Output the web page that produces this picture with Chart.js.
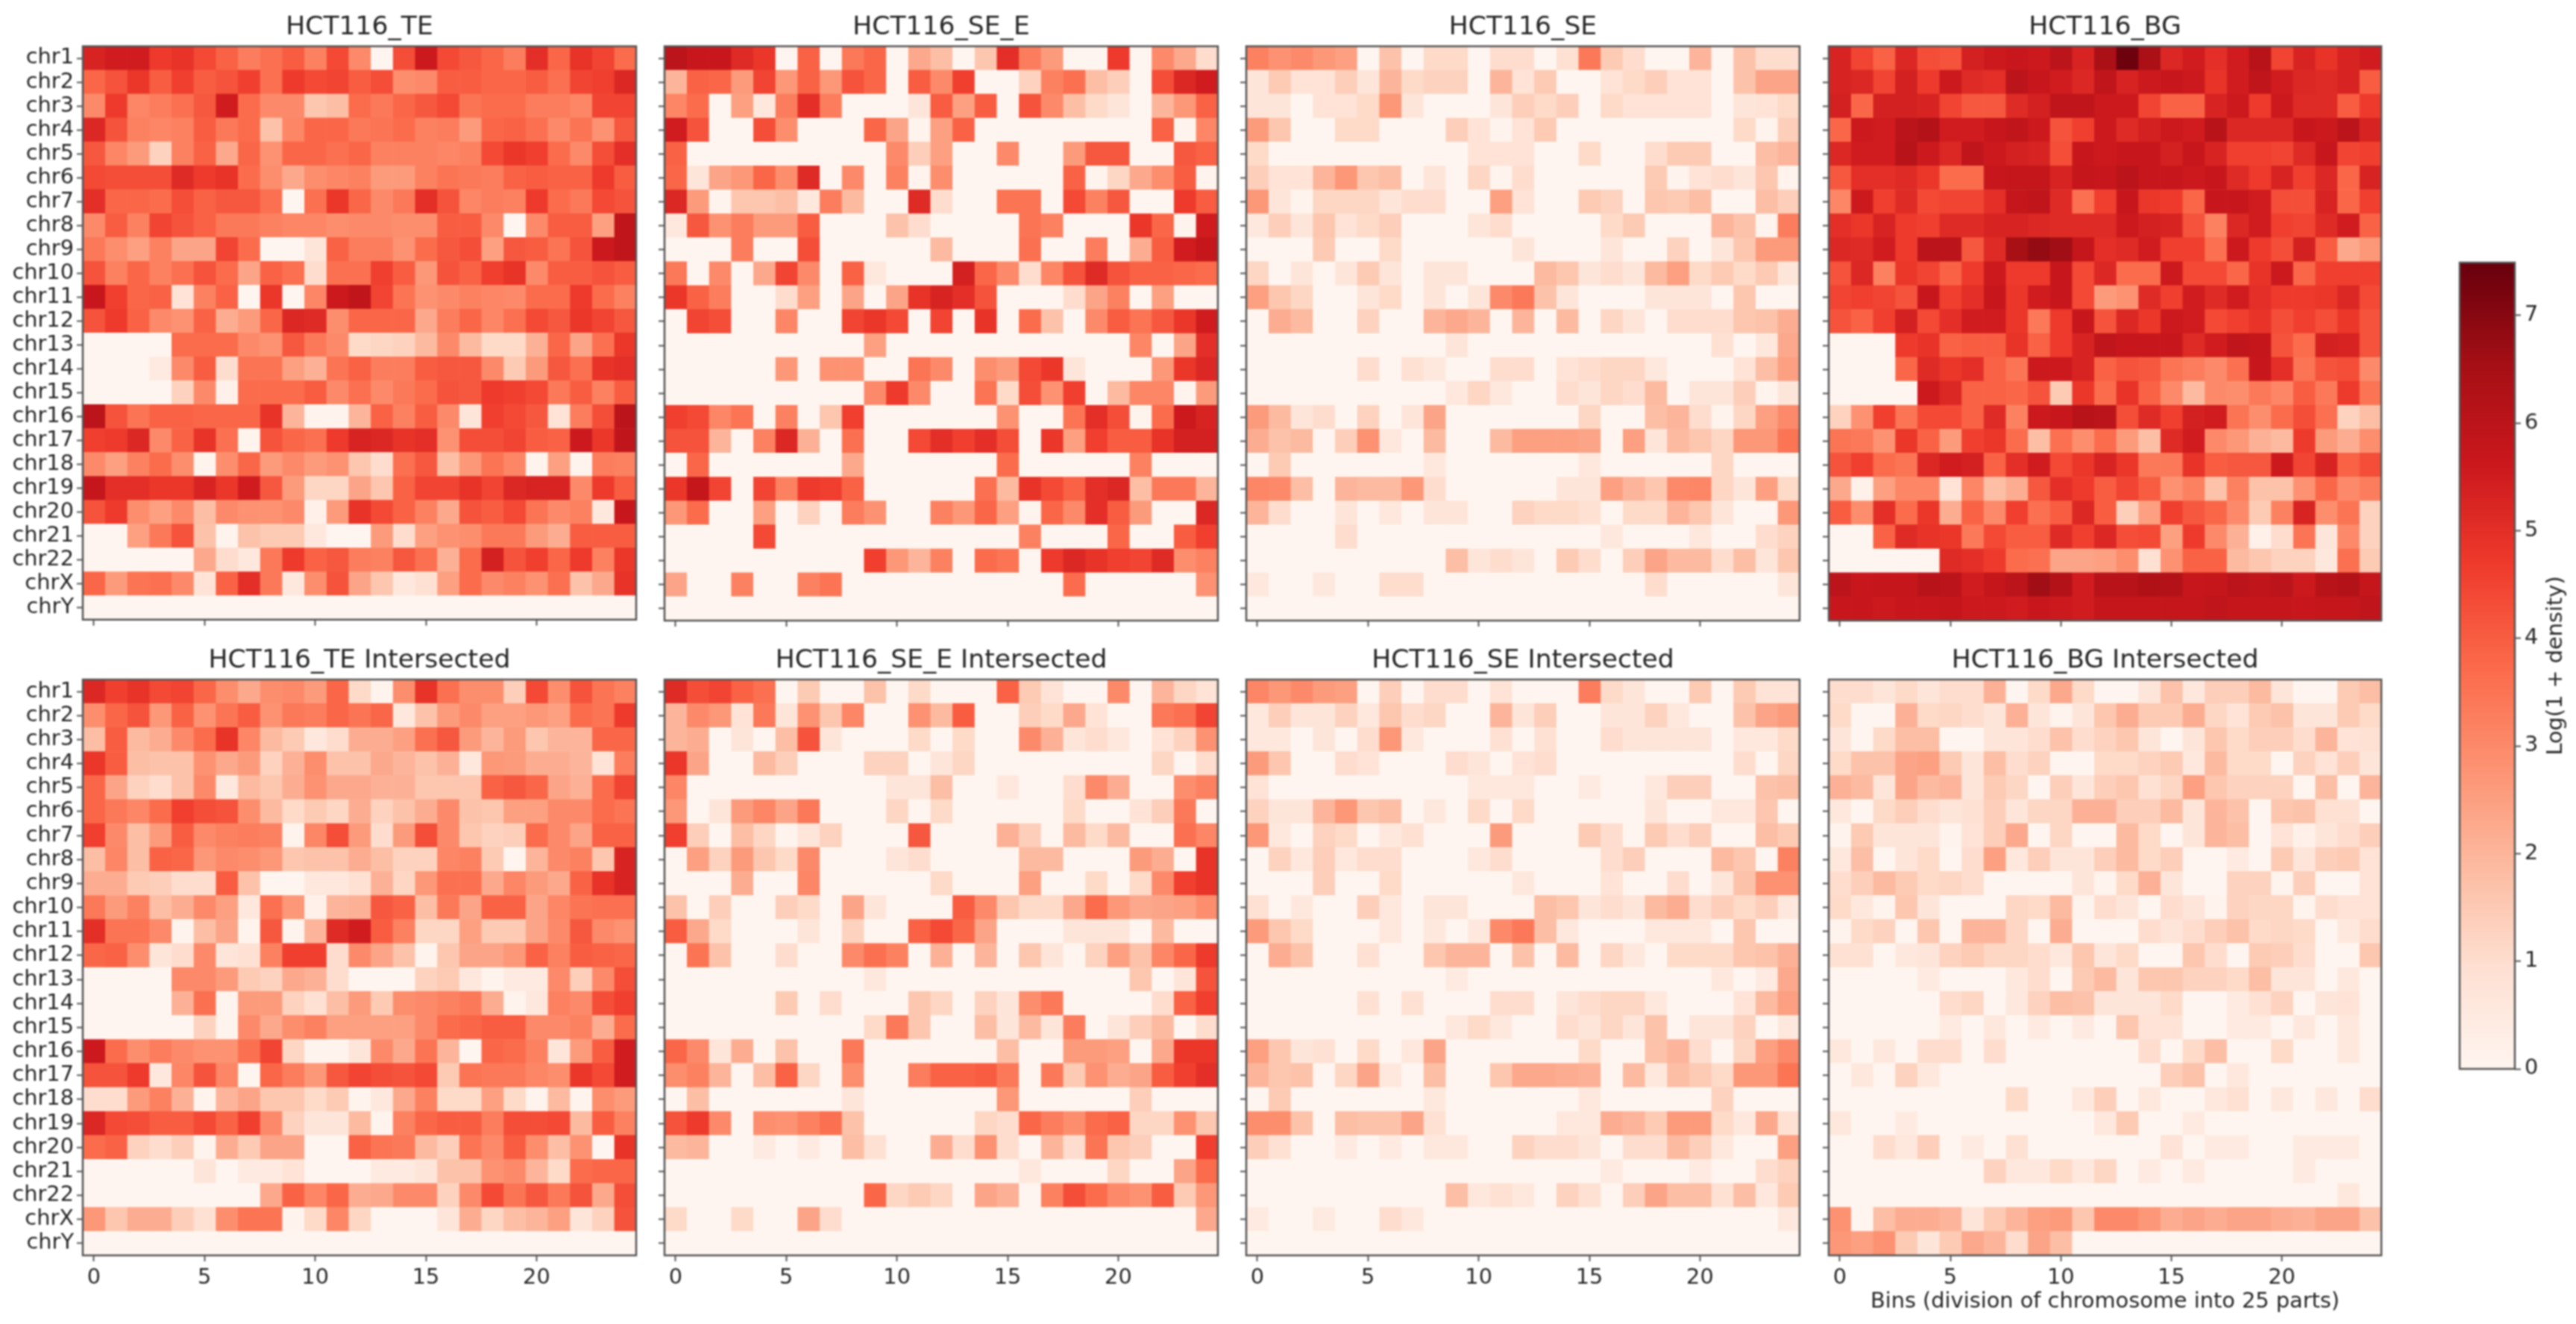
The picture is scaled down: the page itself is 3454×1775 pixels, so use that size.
<!DOCTYPE html>
<html>
<head>
<meta charset="utf-8">
<title>HCT116 density</title>
<script src="https://cdn.jsdelivr.net/npm/chart.js@4"></script>
<style>
  html, body { margin: 0; padding: 0; background: #fff; overflow: hidden; }
  #page { position: relative; width: 3454px; height: 1775px; filter: blur(1px); }
  canvas { position: absolute; }
</style>
</head>
<body>
<div id="page"></div>
<script>
const chromosomes = ['chr1','chr2','chr3','chr4','chr5','chr6','chr7','chr8','chr9','chr10','chr11','chr12','chr13','chr14','chr15','chr16','chr17','chr18','chr19','chr20','chr21','chr22','chrX','chrY'];
const binTicks = [0, 5, 10, 15, 20];
const colorbarTicks = [0, 1, 2, 3, 4, 5, 6, 7];
const colorMax = 7.49;
const redsStops = ['#fff5f0','#fee0d2','#fcbba1','#fc9272','#fb6a4a','#ef3b2c','#cb181d','#a50f15','#67000d'];

const teValues = [
[5.3,5.5,5.5,4.7,4.9,4.4,3.9,3.3,3.6,4.0,3.2,4.4,3.0,0,4.3,5.6,4.4,4.1,3.8,3.3,5.0,3.8,4.9,4.5,3.7],
[3.8,4.2,4.8,4.0,4.6,4.0,4.2,4.6,3.6,4.7,4.4,4.5,4.0,4.3,2.9,3.0,4.0,4.0,3.8,3.8,4.0,3.6,4.5,4.6,5.2],
[3.0,4.7,3.1,3.3,3.6,4.1,5.5,3.7,3.0,3.0,1.6,1.8,3.7,3.4,3.8,4.1,4.4,3.5,3.7,3.7,3.3,3.3,3.1,4.5,4.5],
[5.2,4.2,3.2,3.1,3.2,4.0,3.4,3.7,1.7,3.1,3.8,3.8,3.4,3.5,3.7,3.2,3.3,2.6,3.8,3.9,3.6,3.0,3.5,2.8,4.1],
[4.1,3.1,2.6,1.3,3.2,3.9,2.3,3.8,2.8,3.8,3.8,3.6,3.8,3.2,3.2,3.2,3.1,3.2,4.4,4.8,4.6,3.7,3.0,4.3,5.0],
[4.4,4.3,4.3,4.3,5.1,4.7,4.9,3.7,2.9,2.3,2.9,3.1,3.2,2.6,2.6,3.2,3.5,3.4,3.3,3.9,4.0,3.9,3.9,4.7,4.0],
[5.0,3.8,3.8,3.7,4.3,3.9,4.1,4.1,3.6,0,3.6,4.8,3.8,3.0,3.4,5.0,4.2,3.1,3.3,3.2,4.7,3.7,3.4,4.4,4.2],
[3.0,4.0,3.2,4.5,4.2,3.9,3.4,3.4,3.2,3.1,3.1,2.9,3.0,3.0,2.9,2.9,4.0,4.0,3.0,0,3.0,4.0,4.0,2.5,5.9],
[3.4,2.9,2.5,3.2,2.4,2.4,4.5,3.7,0,0,0.7,3.9,3.3,3.3,2.8,3.7,4.1,4.3,2.5,4.1,4.0,3.5,4.2,5.6,5.9],
[4.2,3.2,3.8,3.2,3.6,4.2,3.7,2.4,3.9,3.6,1.0,3.6,3.6,4.6,4.0,2.7,4.2,3.9,4.6,4.9,3.0,4.0,4.0,4.2,4.0],
[5.7,4.6,3.8,3.9,0.8,3.2,3.9,0,4.8,0,3.1,5.6,5.9,4.5,3.5,2.8,3.0,3.2,3.1,3.0,3.7,3.7,4.7,3.7,3.2],
[4.2,4.7,3.9,3.0,2.8,3.9,2.2,2.6,3.8,5.2,5.1,2.9,3.8,3.8,3.8,2.3,3.3,3.8,3.1,3.6,4.4,4.1,4.8,4.5,4.1],
[0,0,0,0,3.7,3.7,3.7,3.0,2.8,4.1,3.4,3.0,1.1,1.2,1.3,1.9,3.0,1.9,1.1,1.1,2.1,3.8,2.4,3.6,4.8],
[0,0,0,0.5,3.0,4.0,1.0,3.5,3.5,2.5,2.1,3.5,3.9,3.3,3.3,4.0,4.1,4.1,3.0,1.5,2.6,4.1,3.6,4.9,5.0],
[0,0,0,0,1.3,3.0,0.2,3.7,3.7,3.7,4.0,3.0,3.6,3.0,3.4,3.7,4.2,4.1,4.7,4.6,4.4,3.4,4.0,3.2,4.0],
[6.0,4.2,3.5,3.9,3.9,3.8,3.8,3.8,4.9,2.0,0.1,0.1,2.0,3.9,3.2,4.0,3.0,0.7,4.6,4.4,4.1,0.8,3.3,4.3,6.0],
[4.6,4.7,5.2,3.0,3.9,4.9,3.6,0.1,4.2,3.8,3.6,4.7,5.3,5.2,4.9,5.0,2.8,4.3,4.3,4.5,4.0,3.9,5.6,4.8,5.9],
[3.0,2.5,3.2,3.7,2.9,0.1,2.9,3.8,2.6,3.0,2.6,2.8,1.6,1.0,3.6,4.1,1.8,2.7,3.5,3.1,0.1,2.5,0.1,3.3,3.2],
[5.8,5.0,5.0,4.8,4.8,5.3,4.8,5.5,4.1,2.6,1.2,1.2,2.4,1.6,3.9,4.5,4.5,4.9,4.5,5.2,5.3,5.3,3.0,4.7,4.0],
[4.2,4.7,2.9,2.5,3.0,1.8,3.0,2.8,2.8,3.0,0.2,2.6,4.9,4.4,3.9,3.2,2.3,4.2,4.0,4.4,3.5,3.0,3.2,0.6,5.7],
[0,0,2.5,3.4,4.2,1.7,0.1,1.7,1.5,1.5,0.6,0,0,2.6,1.0,2.5,2.8,2.9,3.4,3.4,2.6,2.2,4.0,4.0,4.0],
[0,0,0,0,0,2.3,1.0,0.6,3.4,4.7,3.9,4.1,3.3,3.2,4.1,3.6,2.1,3.7,5.4,4.2,4.6,3.8,4.7,3.2,4.8],
[3.8,2.6,3.5,3.6,3.0,0.8,3.9,5.0,3.4,0.6,2.9,4.2,2.4,1.6,0.6,0.9,2.5,3.7,3.0,3.2,2.8,3.6,1.7,2.3,4.9],
[0,0,0,0,0,0,0,0,0,0,0,0,0,0,0,0,0,0,0,0,0,0,0,0,0]
];

const seEValues = [
[6.0,5.7,5.7,5.1,4.8,0,3.9,0,3.4,3.8,0,2.3,1.8,0,1.6,5.0,3.3,2.6,0,0,4.7,0,3.0,2.3,1.0],
[2.0,3.9,3.8,2.6,4.5,2.7,3.9,2.7,4.2,3.8,0,4.0,3.0,4.6,0,0,1.3,3.2,3.6,1.8,1.4,0,4.3,5.2,5.5],
[3.1,3.7,0,2.5,0.6,3.3,5.0,3.3,0,0,0,0.7,4.0,2.5,4.0,0,4.2,3.0,1.8,1.1,0.7,0,2.0,2.7,3.9],
[5.5,4.2,0,0,4.3,2.9,0,0,0,3.8,2.4,0.1,2.5,3.9,0,0,0,0,0,0,0,0,3.9,0.1,3.1],
[3.9,0,0,0,0,0,0,0,0,0,3.0,1.4,2.5,0,0,3.0,0,0,2.6,4.1,4.1,0,0,4.1,3.9],
[3.8,0.7,2.4,2.7,3.8,2.9,5.1,0,3.0,0,3.2,0.1,2.9,0,0,0,0,0,3.9,0.1,1.2,2.3,2.9,4.0,0.1],
[5.2,2.6,0.1,1.6,1.6,1.8,0.6,3.3,1.9,0,0,5.1,1.0,0,0,3.5,3.5,0,4.4,3.2,4.1,0,0,4.7,4.0],
[0.6,4.1,2.8,3.3,2.6,2.6,4.0,0,0,0,1.7,1.0,0,0,0,0,3.5,3.2,0,0,0,4.8,3.8,0.1,5.5],
[0,0,0,3.3,0,0,4.3,0,0,0,0,0,1.9,0,0,0,3.6,0,0,3.3,0,2.2,4.0,5.5,5.8],
[3.4,0,3.0,0,2.3,4.5,3.0,0,3.9,0.6,0,0,0,5.4,3.8,3.0,1.0,3.1,4.2,5.1,4.2,3.9,3.9,3.8,3.7],
[4.8,3.9,3.3,0,0,1.0,2.5,0,2.4,0,2.4,4.9,5.3,5.0,4.2,0,0,0,1.0,2.4,3.2,0,2.5,0,0],
[0,4.5,4.3,0,0,3.1,0,0,4.5,4.8,4.4,0,4.5,0,4.9,0,3.7,1.7,0,3.0,4.0,3.5,4.1,4.8,5.5],
[0,0,0,0,0,0,0,0,0,2.5,0,0,0,0,0,0,0,0,0,0,0,3.1,0,2.4,5.0],
[0,0,0,0,0,2.7,0,2.8,2.8,0,0,3.5,3.0,0,2.9,2.6,4.4,4.8,0.7,0,0,0,2.7,4.8,5.2],
[0,0,0,0,0,0,0,0,0,3.0,4.7,3.0,0,0,3.5,1.1,4.3,2.8,4.6,0,1.9,3.1,3.1,0.1,2.6],
[4.6,4.4,3.1,3.5,0,3.2,0,1.6,4.6,0,0,0,0,0,0,2.8,0,0,3.5,5.0,4.3,0.1,3.7,5.6,5.3],
[4.2,4.2,2.0,0,3.2,5.2,2.1,0,3.6,0,0,4.4,5.0,4.6,5.0,4.3,0,4.8,2.5,4.6,4.0,4.0,4.9,5.4,5.4],
[0,3.8,0,0,0,0,0,0,2.3,0,0,0,0,0,0,3.7,0,0,0,0,0,3.2,0,0,0],
[4.8,5.8,4.5,0,4.5,3.2,4.7,4.6,3.9,0,0,0,0,0,3.6,1.9,4.9,4.4,3.9,5.0,5.2,1.8,3.4,3.4,2.0],
[2.7,3.7,0,0,2.5,0,1.3,0,3.3,2.8,0,0,3.2,2.7,3.8,2.5,0.1,3.8,3.0,5.0,4.0,2.6,0,0,5.2],
[0,0,0,0,4.4,0,0,0,0,0,0,0,0,0,0,0,3.2,0,0,0,3.8,0,0,4.0,4.6],
[0,0,0,0,0,0,0,0,0,4.6,2.7,2.0,3.2,0,3.7,3.5,0,4.7,5.2,4.9,4.6,4.5,5.1,2.9,3.2],
[2.4,0,0,3.2,0,0,3.2,3.5,0,0,0,0,0,0,0,0,0,0,3.7,0,0,0,0,0,2.8],
[0,0,0,0,0,0,0,0,0,0,0,0,0,0,0,0,0,0,0,0,0,0,0,0,0]
];

const seValues = [
[3.2,2.8,3.0,2.7,2.5,0,1.7,0,1.1,1.1,0,1.0,1.0,0,0.9,3.4,1.5,1.0,0,0,2.0,0,1.7,1.0,1.0],
[0.7,1.5,0.8,0.8,1.4,0.7,2.0,1.1,1.3,1.3,0,2.0,0.8,1.5,0,0,0.8,1.1,1.4,0.8,0.8,0,1.7,2.4,2.4],
[0.7,0.7,0,0.8,0.8,1.1,2.7,0.7,0,0,0,0.7,1.4,1.1,1.4,0,1.1,0.8,0.8,0.8,0.8,0,0.7,0.8,1.1],
[2.6,1.6,0,0,1.1,1.1,0,0,0,1.4,0.8,0.1,0.8,1.5,0,0,0,0,0,0,0,0,1.1,0.1,1.4],
[1.1,0,0,0,0,0,0,0,0,0,0.8,0.8,0.8,0,0,1.1,0,0,1.0,1.5,1.5,0,0,1.8,2.0],
[1.4,0.8,0.8,2.0,2.7,1.6,1.8,0,0.7,0,1.2,0.1,1.0,0,0,0,0,0,1.5,0.1,0.8,1.0,0.7,1.6,0.1],
[2.7,0.7,0.1,1.2,1.2,1.2,0.7,1.0,1.0,0,0,2.5,0.8,0,0,1.5,1.3,0,1.6,1.5,1.8,0,0,1.8,1.4],
[0.6,1.4,0.7,1.6,0.8,1.1,1.4,0,0,0,0.7,1.0,0,0,0,0,1.1,1.5,0,0,0,2.0,1.7,0.1,3.3],
[0,0,0,1.5,0,0,1.1,0,0,0,0,0,0.7,0,0,0,0.7,0,0,1.3,0,0.7,1.6,2.6,2.6],
[1.2,0,0.7,0,0.7,1.5,0.7,0,0.7,0.7,0,0,0,1.9,1.6,0.7,1.0,0.7,1.9,2.5,1.1,1.5,1.1,1.5,0.7],
[2.5,1.6,1.2,0,0,0.7,1.1,0,0.7,0,0.7,3.0,3.4,1.7,0.7,0,0,0,0.7,0.7,0.7,0,1.6,0,0],
[0,2.2,1.9,0,0,1.3,0,0,2.0,2.3,2.0,0,2.0,0,1.9,0,1.2,0.7,0,1.0,1.0,1.0,1.6,1.7,2.2],
[0,0,0,0,0,0,0,0,0,0.7,0,0,0,0,0,0,0,0,0,0,0,0.9,0,0.6,2.3],
[0,0,0,0,0,1.0,0,0.9,0.6,0,0,1.0,1.0,0,0.8,1.0,1.2,1.2,0.6,0,0,0,0.8,1.8,2.5],
[0,0,0,0,0,0,0,0,0,0.6,1.2,0.6,0,0,1.0,0.7,1.2,1.0,1.9,0,0.7,0.7,1.4,0.1,0.7],
[2.6,1.9,0.7,1.0,0,1.3,0,0.7,2.4,0,0,0,0,0,0,1.2,0,0,1.8,2.0,1.0,0.1,1.2,2.5,3.0],
[2.2,1.7,1.9,0,1.4,2.8,0.6,0,1.9,0,0,1.9,2.5,2.5,2.5,2.4,0,2.5,0.7,1.9,1.6,1.2,2.7,2.7,3.5],
[0,1.5,0,0,0,0,0,0,0.6,0,0,0,0,0,0,0.6,0,0,0,0,0,1.2,0,0,0],
[3.1,3.0,1.8,0,2.0,1.9,1.9,2.7,1.0,0,0,0,0,0,0.7,0.7,2.5,2.0,1.6,3.0,3.1,1.2,0.7,2.5,1.1],
[2.0,1.0,0,0,0.7,0,0.6,0,0.7,0.7,0,0,1.3,1.1,1.1,0.9,0,1.1,1.1,2.0,1.6,0.7,0,0,2.7],
[0,0,0,0,1.0,0,0,0,0,0,0,0,0,0,0,0,0.6,0,0,0,0.6,0,0,1.0,1.3],
[0,0,0,0,0,0,0,0,0,1.8,0.7,1.0,0.7,0,1.5,1.0,0,1.4,2.4,1.9,1.9,1.0,1.8,0.7,1.6],
[0.6,0,0,0.6,0,0,1.0,1.0,0,0,0,0,0,0,0,0,0,0,1.0,0,0,0,0,0,0.7],
[0,0,0,0,0,0,0,0,0,0,0,0,0,0,0,0,0,0,0,0,0,0,0,0,0]
];

const bgValues = [
[5.3,4.5,3.9,5.2,4.3,4.2,5.4,5.6,5.7,5.6,6.0,5.3,6.4,7.4,6.4,5.2,5.5,5.0,5.5,6.1,4.5,5.3,4.9,5.3,5.5],
[5.3,5.2,4.5,5.4,4.7,5.6,5.1,5.0,6.0,5.7,5.5,5.2,5.9,5.3,5.6,5.7,5.6,4.9,5.5,5.9,5.5,5.2,5.1,5.3,4.0],
[5.4,3.8,5.4,5.4,5.3,4.5,4.1,4.1,5.1,5.4,5.9,5.9,5.6,5.6,4.5,3.9,3.9,5.3,5.6,4.7,5.6,5.1,5.1,4.0,4.7],
[3.8,5.6,5.5,6.0,6.2,5.5,5.5,5.7,5.9,5.6,4.2,4.6,5.6,5.1,5.4,5.6,5.5,6.1,5.2,5.2,5.2,5.7,5.6,6.0,5.3],
[5.2,5.5,5.5,6.1,5.6,5.2,5.9,5.6,5.4,5.3,4.3,5.7,5.6,5.7,5.7,5.4,5.7,5.3,4.6,4.6,4.5,5.1,5.7,4.5,4.6],
[4.1,5.0,5.0,5.1,4.8,3.7,3.7,5.7,5.8,5.8,5.3,5.8,5.7,6.0,5.7,5.7,5.6,5.7,5.1,4.7,5.3,4.6,5.2,3.8,5.3],
[3.1,5.6,4.6,5.1,4.4,4.5,4.5,5.0,5.8,5.9,5.1,3.6,4.6,5.7,4.8,4.7,3.8,5.7,5.7,5.5,4.3,4.3,5.3,3.8,4.6],
[5.0,4.8,5.3,4.7,4.6,5.1,5.1,5.3,5.3,5.2,5.1,5.1,5.1,5.6,5.4,5.3,4.2,3.2,5.2,5.5,4.6,4.5,5.1,5.5,3.9],
[5.2,5.1,5.5,4.7,6.0,6.0,4.1,5.1,6.5,6.8,6.6,5.8,5.0,5.1,5.5,4.6,4.6,3.6,5.6,4.7,4.3,5.4,4.0,2.3,2.7],
[4.2,5.2,3.2,4.8,4.5,3.9,4.7,5.6,4.7,4.7,5.7,4.4,5.2,3.7,3.7,5.6,4.4,4.4,3.8,4.9,5.6,3.8,4.6,4.6,4.6],
[4.5,4.6,4.5,4.2,5.7,4.6,5.0,5.7,4.8,5.5,5.7,4.4,2.6,2.8,5.1,4.6,5.5,5.1,5.5,5.0,4.7,4.7,4.8,5.2,4.4],
[4.2,3.9,4.6,5.4,4.4,5.0,5.5,5.5,4.8,3.4,4.7,5.7,4.2,5.2,4.8,5.6,5.5,4.4,4.6,4.9,4.3,4.6,4.3,4.8,4.2],
[0,0,0,4.7,4.9,3.9,4.0,4.0,4.9,3.9,4.7,5.3,5.9,5.7,5.7,5.7,5.1,5.5,5.9,5.8,4.2,3.7,5.4,5.3,4.2],
[0,0,0,3.8,5.1,4.8,5.0,3.9,3.5,5.6,5.6,5.3,3.9,4.2,4.1,3.5,3.3,3.0,3.6,5.7,5.0,3.5,4.2,4.3,3.0],
[0,0,0,0,5.6,5.2,3.9,3.9,3.8,4.2,1.5,4.8,3.7,4.9,3.9,3.0,1.9,3.0,2.9,3.4,3.1,4.0,3.4,4.7,3.5],
[1.3,2.8,4.6,3.5,4.4,4.4,3.9,5.1,3.2,5.6,5.7,6.1,6.0,4.3,5.1,4.6,5.4,5.5,3.5,2.9,3.7,4.3,3.6,1.3,1.8],
[3.5,3.4,2.8,4.8,3.9,2.6,4.6,4.8,3.7,1.8,3.6,2.9,3.7,2.6,1.8,5.1,5.5,3.0,2.7,2.1,1.9,4.7,2.6,2.2,2.9],
[4.2,4.6,3.7,3.5,5.2,5.5,5.4,3.9,5.0,5.5,4.4,4.8,5.3,4.8,3.4,3.4,4.9,4.0,4.1,4.1,5.6,4.5,5.3,3.9,4.3],
[2.3,0.2,2.5,3.1,3.1,0.8,3.1,1.8,2.2,4.1,5.0,4.7,4.0,4.5,4.0,2.8,3.2,1.7,3.2,1.7,1.7,2.8,3.8,3.0,3.3],
[4.0,2.9,5.0,3.7,4.8,2.2,3.9,3.0,4.6,3.6,4.0,5.2,4.0,1.4,2.5,4.6,4.1,3.8,3.0,1.5,3.2,5.3,2.9,3.5,1.3],
[0,0,3.9,5.1,4.9,4.8,3.4,4.4,4.0,4.0,5.1,4.6,5.2,4.3,4.4,2.5,4.7,3.0,2.1,0.2,1.0,3.5,0.7,3.0,1.3],
[0,0,0,0,0,5.1,5.0,4.7,3.7,3.6,2.4,2.4,2.5,2.9,0.9,2.8,3.9,3.9,1.9,1.6,1.3,1.3,0.6,3.6,1.5],
[6.0,5.7,5.8,5.8,6.1,6.0,5.5,5.8,6.0,6.6,6.2,5.5,6.1,6.1,6.3,6.2,5.7,5.8,6.0,5.9,6.0,5.6,6.1,6.2,5.8],
[5.7,5.7,5.6,5.7,5.7,5.8,5.6,5.6,5.5,5.7,5.6,5.5,5.8,5.8,5.8,5.8,5.8,5.9,5.8,5.8,5.8,5.7,5.8,5.8,5.9]
];

const teIntersected = [
[5.2,4.6,4.9,4.4,4.5,3.8,2.9,2.3,2.9,3.0,2.6,3.8,1.1,0.1,2.9,4.9,3.6,2.9,2.9,1.4,4.4,2.9,4.2,3.5,3.2],
[2.9,3.8,4.2,2.7,3.9,2.8,3.5,4.0,2.8,3.4,3.3,3.8,3.5,3.8,0.6,1.7,2.6,3.0,2.5,2.5,2.7,2.5,3.7,3.5,4.7],
[1.8,4.0,1.9,2.2,3.0,3.7,4.9,3.1,1.9,1.5,0.6,1.0,2.2,2.2,2.5,3.6,4.1,2.6,2.0,2.6,1.6,2.0,2.0,3.8,3.8],
[4.8,4.0,1.8,1.7,1.7,2.8,2.3,2.6,1.3,2.1,2.9,1.7,1.7,2.3,2.0,1.7,2.1,0.6,2.7,2.6,2.2,2.2,2.0,0.8,3.3],
[3.8,2.4,1.3,1.0,1.7,3.0,0.6,1.9,1.6,2.2,2.8,2.3,2.3,2.1,2.1,1.6,1.6,1.6,3.9,4.1,3.8,2.4,2.1,3.7,4.5],
[3.8,3.4,3.1,3.7,4.6,4.3,4.2,2.9,1.9,1.1,1.5,1.2,2.2,1.3,1.7,2.2,3.0,1.7,1.6,2.5,2.5,3.0,3.0,3.7,3.5],
[4.6,3.0,1.8,2.6,4.0,3.0,3.2,3.3,3.2,0.1,3.1,4.3,2.6,1.0,2.6,4.3,3.0,1.6,1.3,1.4,3.7,3.0,2.4,3.9,3.9],
[1.8,3.1,1.8,3.9,3.8,2.7,3.0,2.9,2.7,1.6,1.7,1.7,2.2,1.8,1.3,1.3,3.1,3.2,1.5,0,2.0,3.0,3.2,1.6,5.3],
[2.2,2.2,1.5,1.4,1.0,1.0,4.0,1.7,0,0,0.6,0.6,0.9,2.1,1.2,2.7,3.6,3.6,2.3,3.1,2.6,2.3,3.9,4.9,5.3],
[3.4,2.6,3.2,1.8,2.2,3.0,2.5,0.6,3.6,2.7,0.2,2.0,2.1,4.1,3.9,1.8,3.4,2.4,3.9,3.9,2.4,3.1,3.5,3.6,3.6],
[5.0,3.5,3.5,3.0,0.1,1.8,2.4,0.1,4.1,0.1,2.0,5.1,5.5,4.0,3.2,1.2,1.2,2.5,1.5,1.5,2.4,3.0,4.1,3.0,2.8],
[3.8,3.9,2.9,0.7,1.0,3.0,0.7,0.9,3.2,4.6,4.6,1.0,3.0,2.4,1.7,0.1,1.6,2.4,2.4,2.7,3.9,3.2,4.0,3.9,3.8],
[0,0,0,0,3.0,3.0,2.6,1.5,1.3,2.3,2.1,1.0,0,0,0,1.3,1.5,0.6,0.1,0.5,0.5,3.0,1.4,3.0,4.3],
[0,0,0,0,2.1,3.6,0.1,2.6,2.6,1.3,0.9,1.8,2.6,1.5,2.9,3.0,3.2,3.4,2.2,0.1,0.6,3.2,3.0,4.3,4.6],
[0,0,0,0,0,1.3,0.1,3.0,2.3,2.9,3.2,2.5,2.5,2.5,2.5,3.0,3.7,3.8,4.0,4.0,3.0,3.0,3.2,2.2,3.7],
[5.6,3.7,2.9,3.3,3.0,2.8,2.8,3.6,4.5,1.2,0.1,0.1,0.7,3.0,2.3,3.5,2.0,0,3.8,3.7,3.2,0.7,2.6,4.0,5.5],
[4.2,4.2,4.7,0.6,3.1,4.2,3.1,0,3.8,3.3,2.7,4.1,4.5,4.3,4.2,4.4,1.5,3.5,3.4,3.4,3.1,2.9,4.8,4.4,5.5],
[1.0,1.0,2.6,3.2,2.1,0.1,2.0,2.4,1.6,1.6,1.1,1.5,0.1,0.6,2.3,3.2,1.1,1.1,2.5,1.1,0.1,1.9,0.1,2.9,2.6],
[5.2,4.4,4.3,4.0,4.0,4.4,3.9,4.6,3.0,1.3,0.7,0.7,1.9,0.1,3.2,3.8,4.0,4.0,3.3,4.3,4.3,4.4,1.9,4.0,3.2],
[3.7,3.9,1.3,1.0,1.4,0.1,2.2,1.5,2.4,2.4,0,0,3.9,3.5,3.4,1.9,1.4,3.5,3.0,4.0,2.9,1.8,2.8,0,4.9],
[0,0,0,0,0,0.7,0,0.5,0.5,0.8,0,0,0,0.5,0.5,0.7,1.7,1.7,2.8,3.0,2.0,1.1,3.7,3.8,3.8],
[0,0,0,0,0,0,0,0,2.3,3.9,3.1,3.8,2.2,2.3,3.0,3.0,1.3,3.0,4.4,3.5,4.1,3.4,4.2,2.3,4.3],
[2.7,1.6,2.2,2.2,1.4,0.9,2.9,3.5,3.5,0.1,1.1,3.1,1.2,0,0,0,0.7,2.2,1.2,1.8,2.0,2.5,0.7,1.3,4.2],
[0,0,0,0,0,0,0,0,0,0,0,0,0,0,0,0,0,0,0,0,0,0,0,0,0]
];

const seEIntersected = [
[5.1,4.3,4.5,3.9,3.6,0,1.5,0,0,1.7,0,1.1,0,0,0,3.9,1.5,0.8,0,0,3.0,0,2.0,1.2,0.8],
[2.0,3.0,2.7,0.8,3.4,0.7,2.8,1.6,3.1,0,0,2.8,1.9,4.0,0,0,1.4,1.1,2.3,0.8,0,0,3.4,3.6,4.5],
[2.0,2.2,0,0.7,0,1.8,4.2,0.7,0,0,0,1.1,0,1.1,0,0,3.0,2.1,0.7,1.0,0.6,0,0.8,1.3,2.8],
[4.8,2.4,0,0,1.9,1.4,0,0,0,1.3,1.3,0,0.7,1.2,0,0,0,0,0,0,0,0,1.2,0,1.0],
[3.1,0,0,0,0,0,0,0,0,0,0.7,0.7,1.8,0,0,0.6,0,0,1.0,3.0,2.2,0,0,2.9,3.2],
[2.7,0,0.7,2.6,3.1,2.4,3.4,0,0,0,1.2,0,1.1,0,0,0,0,0,1.1,0,0,0.8,1.4,3.4,0],
[4.6,1.4,0,1.8,1.2,0.1,0.7,1.3,0,0,0,4.1,0,0,0,2.1,1.4,0,1.9,1.1,1.9,0,0,3.6,3.1],
[0,2.5,1.3,2.6,1.6,1.1,3.0,0,0,0,0.7,1.0,0,0,0,0,1.9,1.9,0,0,0,2.6,2.2,0,4.9],
[0,0,0,2.2,0,0,3.1,0,0,0,0,0,1.1,0,0,0,2.5,0,0,1.1,0,1.1,3.0,4.6,4.9],
[1.7,0,1.4,0,0,1.4,1.1,0,2.4,0.7,0,0,0,4.0,3.0,1.6,1.1,1.1,2.3,3.7,2.7,2.3,2.4,2.5,2.9],
[4.0,2.3,1.1,0,0,0,0.7,0,1.3,0,0,3.9,4.4,3.8,2.4,0,0,0,0.7,0.7,0.7,0,1.9,0,0],
[0,3.5,1.7,0,0,1.0,0,0,3.0,3.6,3.2,0,2.1,0,2.0,0,1.6,0.7,0,1.3,2.5,1.7,3.1,3.8,4.7],
[0,0,0,0,0,0,0,0,0,0.6,0,0,0,0,0,0,0,0,0,0,0,1.6,0,0.7,4.2],
[0,0,0,0,0,1.5,0,1.0,0,0,0,1.6,1.2,0,1.3,0.7,2.9,3.4,0,0,0,0,1.0,3.9,4.6],
[0,0,0,0,0,0,0,0,0,1.1,3.4,1.6,0,0,1.8,0.7,1.9,0.7,3.3,0,0.7,1.4,1.9,0,1.0],
[3.8,3.0,0.7,2.2,0,1.7,0,0,3.4,0,0,0,0,0,0,1.8,0,0,2.6,2.6,2.5,0,2.3,4.8,4.8],
[2.9,3.2,2.0,0,1.8,3.9,1.2,0,2.9,0,0,3.3,3.9,3.9,4.0,3.4,0,3.4,1.5,2.8,2.2,2.4,4.0,4.6,5.0],
[0,1.8,0,0,0,0,0,0,0.7,0,0,0,0,0,0,2.7,0,0,0,0,0,1.4,0,0,0],
[4.2,4.7,3.0,0,2.9,2.8,3.2,3.6,1.7,0,0,0,0,0,1.2,1.0,3.8,3.3,2.9,3.7,3.9,1.2,1.2,2.8,1.6],
[1.9,2.0,0,0,0.5,0,0.5,0,1.8,0.9,0,0,2.2,1.0,2.8,1.0,0,2.0,1.0,3.5,1.6,1.4,0,0,4.6],
[0,0,0,0,0,0,0,0,0,0,0,0,0,0,0,0,0.6,0,0,0,1.2,0,0,2.4,3.7],
[0,0,0,0,0,0,0,0,0,3.8,1.2,1.5,1.2,0,2.4,2.1,0,3.2,4.3,3.7,3.0,2.8,4.0,1.5,2.7],
[1.1,0,0,1.1,0,0,2.4,1.0,0,0,0,0,0,0,0,0,0,0,0,0,0,0,0,0,2.3],
[0,0,0,0,0,0,0,0,0,0,0,0,0,0,0,0,0,0,0,0,0,0,0,0,0]
];

const seIntersected = [
[3.1,2.7,3.0,2.6,2.5,0,1.4,0,1.0,1.0,0,0.8,0,0,0,3.3,1.1,0.7,0,0,1.5,0,1.5,0.8,0.8],
[0.6,1.4,0.7,0.7,1.3,0.6,1.6,1.0,1.2,0,0,2.0,0.7,1.4,0,0,0.7,0.7,1.3,0.6,0,0,1.7,2.4,2.6],
[0.6,0.6,0,0.7,0,1.0,2.7,0.6,0,0,0,0.9,0,0.9,0,0,1.0,0.7,0.7,0.7,0.7,0,0.6,0.6,1.1],
[2.6,1.6,0,0,1.0,0.8,0,0,0,1.0,0.7,0,0.8,1.0,0,0,0,0,0,0,0,0,1.0,0,1.2],
[0.8,0,0,0,0,0,0,0,0,0,0.6,0.6,0.6,0,0,0.5,0,0,0.6,1.4,1.4,0,0,1.7,1.8],
[1.3,0.7,0.7,2.0,2.7,1.6,1.8,0,0.6,0,1.1,0,1.1,0,0,0,0,0,0.7,0,0,0.6,0.6,1.6,0],
[2.7,0.6,0,1.3,1.1,0,0.6,0.9,0,0,0,2.6,0,0,0,1.5,1.0,0,1.5,1.0,1.4,0,0,1.8,1.5],
[0,1.3,0.6,1.4,0.6,1.0,1.0,0,0,0,0.6,1.0,0,0,0,0,1.0,1.4,0,0,0,1.9,1.6,0,3.2],
[0,0,0,1.4,0,0,1.1,0,0,0,0,0,0.6,0,0,0,0.8,0,0,1.0,0,0.7,1.7,2.8,2.8],
[0.9,0,0.6,0,0,1.4,0.6,0,0.7,0.7,0,0,0,1.8,1.6,0.7,1.0,0.7,1.9,2.2,1.0,1.4,1.1,1.4,0.6],
[2.6,1.6,1.1,0,0,0,0.6,0,0.6,0,0.6,3.0,3.4,1.8,0.6,0,0,0,0.6,0.6,0.6,0,1.6,0,0],
[0,2.2,1.7,0,0,0.9,0,0,1.6,2.0,2.0,0,1.7,0,1.9,0,1.2,0.6,0,1.1,1.1,1.1,1.6,1.7,2.1],
[0,0,0,0,0,0,0,0,0,0.5,0,0,0,0,0,0,0,0,0,0,0,0.6,0,0.5,2.3],
[0,0,0,0,0,0.9,0,0.9,0,0,0,1.0,1.0,0,0.7,1.0,1.2,1.2,0.6,0,0,0,0.8,1.9,2.5],
[0,0,0,0,0,0,0,0,0,0.6,1.1,0.6,0,0,1.0,0.7,1.2,0.7,1.7,0,0.7,0.7,1.3,0,0.6],
[2.5,1.6,0.7,0.9,0,1.1,0,0.6,2.4,0,0,0,0,0,0,1.1,0,0,1.7,2.0,1.0,0,1.2,2.5,3.0],
[2.0,1.6,1.7,0,1.2,2.4,0.6,0,1.8,0,0,1.6,2.3,2.3,2.2,2.1,0,1.9,0.6,1.8,1.5,1.1,2.7,2.7,3.5],
[0,1.5,0,0,0,0,0,0,0.6,0,0,0,0,0,0,0.6,0,0,0,0,0,1.3,0,0,0],
[2.9,2.9,1.7,0,1.8,1.7,1.7,2.4,0.9,0,0,0,0,0,0.6,0.6,2.2,2.0,1.5,2.6,2.6,1.1,0.6,2.3,0.9],
[1.4,0.9,0,0,0.5,0,0.5,0,0.6,0.6,0,0,1.3,1.0,1.0,0.7,0,1.0,1.0,1.9,1.4,0.6,0,0,2.5],
[0,0,0,0,0,0,0,0,0,0,0,0,0,0,0,0,0.5,0,0,0,0.5,0,0,1.0,1.3],
[0,0,0,0,0,0,0,0,0,1.8,0.6,0.9,0.6,0,1.3,0.9,0,1.4,2.4,1.8,1.8,0.9,1.8,0.6,1.5],
[0.5,0,0,0.5,0,0,1.0,0.6,0,0,0,0,0,0,0,0,0,0,0,0,0,0,0,0,0.6],
[0,0,0,0,0,0,0,0,0,0,0,0,0,0,0,0,0,0,0,0,0,0,0,0,0]
];

const bgIntersected = [
[1.0,1.0,0.7,1.1,0.7,1.0,1.0,2.1,0,1.1,2.3,1.1,0,0,0.7,1.7,0.6,1.4,1.4,1.9,0.7,0,0,1.5,1.8],
[1.1,0,0,2.1,1.1,1.2,1.0,0.7,2.1,0.7,0.1,0.7,1.6,2.2,1.5,1.5,2.2,1.2,0.8,1.5,1.7,0.7,0.7,1.5,1.1],
[0.7,0,1.1,1.8,1.8,0,0,0.7,0.7,1.0,1.7,1.0,1.3,1.6,0.7,0,0.7,1.6,1.1,1.4,1.4,1.0,2.0,0.8,0.9],
[1.1,1.7,1.7,2.4,2.5,1.5,0.7,1.8,1.0,1.3,0,0,1.1,1.1,1.3,1.5,0.6,1.9,1.1,1.1,0,1.3,0.8,1.4,0.7],
[2.1,1.9,0.7,2.4,1.9,2.0,0.7,1.5,1.2,0,1.4,0.7,1.4,1.6,0.9,1.2,2.5,1.6,1.3,1.3,1.3,0,1.8,0,2.0],
[0.6,0,1.1,1.4,1.0,0.7,0.9,1.4,0.7,1.2,1.2,2.1,2.1,1.4,1.4,1.9,0.7,2.0,1.7,0,1.6,1.7,0.9,0.9,0],
[0.1,1.5,0.7,0.7,0.7,0.1,0.8,1.4,2.3,0,1.2,0,0,1.9,1.1,0,0.7,2.0,1.8,0,0.8,0.2,0.7,1.0,1.4],
[0.6,1.8,0,0.7,1.1,0,1.0,2.5,0.6,1.4,0.7,0.7,1.4,1.9,1.1,1.4,0,0,0.5,0,1.5,0.7,1.4,1.5,0.8],
[1.0,1.4,1.9,1.5,1.1,1.2,1.0,0,0,0,0,0.7,0.1,1.1,2.1,0.7,0,0,1.3,1.3,0.1,1.4,0,0,0.8],
[1.1,0.6,0.1,1.6,0.7,0,0,0,1.2,1.1,1.9,0.1,1.0,0.7,0,1.0,0.7,0.1,1.3,1.2,1.2,0.1,1.0,0.8,0.8],
[0.1,1.1,1.3,0,1.6,0,2.0,2.0,1.2,0,2.2,0,0,0,1.0,0.7,1.0,1.4,1.7,1.1,1.2,1.1,0,0.6,1.0],
[0.9,0.9,0,0.6,0.7,1.3,1.5,1.2,1.2,1.0,0.6,1.6,0.7,1.1,0,0,1.6,1.0,0,1.5,1.4,1.0,0,0,1.6],
[0,0,0,0,0.5,0,0,0,0.6,1.0,0,1.5,1.9,0.7,1.6,1.6,1.3,1.3,1.1,1.8,0.7,0.7,0,0.6,0],
[0,0,0,0,0,1.0,1.2,0,0.6,1.3,1.8,1.7,0.7,0.7,0.7,1.1,0,0,0.5,0.9,1.3,0,0.7,0.8,0],
[0,0,0,0,0,0.5,0,0.6,0,0.5,0,0.5,0,1.6,0.8,0.8,0,0,0.5,0.5,0,0.6,0,0.6,0],
[0.6,0,0.6,0,1.0,1.0,0,1.0,0,0,0,0,0,0,1.0,0,1.1,1.8,0,0,1.1,0,0,0.6,0],
[0,0.6,0,1.3,0.6,0,0,0,0,0,0,0,0,0,0,1.4,1.7,0,0.6,0,0,0,0,0,0],
[0,0,0,0,0,0,0,0,1.1,0,0,0.6,1.4,0,0.6,0,0,0.6,0.9,0,0.6,0,0.6,0,1.0],
[0.6,0,0,0.5,0,0,0,0,0,0,0,0,0.6,1.5,0,0,0.5,0,0,0,0,0,0,0,0],
[0,0,1.0,0.6,1.4,0,0.5,0,0.9,0,0,0,0,0,0,0.8,0,0.5,0.5,0,0,0.5,0.5,0.5,0],
[0,0,0,0,0,0,0,1.3,0.6,0.6,1.1,0.6,1.2,0,0.5,0,0.5,0,0,0,0,0.5,0,0,0],
[0,0,0,0,0,0,0,0,0,0,0,0,0,0,0,0,0,0,0,0,0,0,0,0.6,0],
[2.8,0,1.8,2.2,2.2,2.0,0.7,1.5,2.0,2.5,2.6,1.6,3.0,3.0,2.7,2.2,2.4,2.2,2.4,2.4,2.2,2.1,2.4,2.4,1.7],
[2.7,2.5,2.8,1.5,0.7,1.5,2.3,2.0,1.0,2.4,1.8,0,0,0,0,0,0,0,0,0,0,0,0,0,0]
];

const panelTitles = ['HCT116_TE','HCT116_SE_E','HCT116_SE','HCT116_BG','HCT116_TE Intersected','HCT116_SE_E Intersected','HCT116_SE Intersected','HCT116_BG Intersected'];
const panelValues = [teValues, seEValues, seValues, bgValues, teIntersected, seEIntersected, seIntersected, bgIntersected];
const xAxisTitle = 'Bins (division of chromosome into 25 parts)';
const colorbarTitle = 'Log(1 + density)';

const colEdges = [[111, 853], [891, 1633], [1671, 2413], [2452, 3193]];
const rowEdges = [[62, 832], [911, 1683]];
const fontFamily = "'DejaVu Sans'";
const textColor = '#262626';
const lineColor = '#555';

function hexToRgb(hex) {
  return [1, 3, 5].map(i => parseInt(hex.slice(i, i + 2), 16));
}

function reds(value) {
  const t = Math.min(value / colorMax, 1) * (redsStops.length - 1);
  const i = Math.min(Math.floor(t), redsStops.length - 2);
  const a = hexToRgb(redsStops[i]);
  const b = hexToRgb(redsStops[i + 1]);
  const c = a.map((v, k) => Math.round(v + (b[k] - v) * (t - i)));
  return `rgb(${c[0]},${c[1]},${c[2]})`;
}

// the frame round each axes box
const framePlugin = {
  id: 'frame',
  afterDraw(chart) {
    const { ctx, chartArea: a } = chart;
    ctx.save();
    ctx.strokeStyle = lineColor;
    ctx.lineWidth = 2.5;
    ctx.strokeRect(a.left, a.top, a.right - a.left, a.bottom - a.top);
    ctx.restore();
  }
};

function addCanvas(left, top, width, height) {
  const canvas = document.createElement('canvas');
  canvas.width = width;
  canvas.height = height;
  canvas.style.left = left + 'px';
  canvas.style.top = top + 'px';
  canvas.style.width = width + 'px';
  canvas.style.height = height + 'px';
  document.getElementById('page').appendChild(canvas);
  return canvas;
}

function drawPanel(index) {
  const col = index % 4;
  const row = Math.floor(index / 4);
  const [left, right] = colEdges[col];
  const [top, bottom] = rowEdges[row];
  const marginLeft = col === 0 ? 111 : 30;
  const marginRight = 30;
  const marginTop = 45;
  const marginBottom = row === 1 ? 85 : 20;
  const canvas = addCanvas(left - marginLeft, top - marginTop, right - left + marginLeft + marginRight, bottom - top + marginTop + marginBottom);
  const values = panelValues[index];

  // one floating bar per cell, one dataset per bin
  const datasets = values[0].map((_, bin) => ({
    data: values.map(() => [bin - 0.5, bin + 0.5]),
    backgroundColor: values.map(r => reds(r[bin])),
    borderWidth: 0,
    grouped: false,
    barPercentage: 1,
    categoryPercentage: 1
  }));

  new Chart(canvas, {
    type: 'bar',
    data: { labels: chromosomes, datasets },
    plugins: [framePlugin],
    options: {
      indexAxis: 'y',
      responsive: false,
      animation: false,
      devicePixelRatio: 1,
      layout: { padding: { right: marginRight } },
      plugins: {
        legend: { display: false },
        tooltip: { enabled: false },
        title: {
          display: true,
          fullSize: false, // centre over the axes box, not the canvas
          text: panelTitles[index],
          color: textColor,
          font: { family: fontFamily, size: 34.6, weight: 'normal', lineHeight: '40px' },
          padding: { top: 0, bottom: 5 }
        }
      },
      scales: {
        x: {
          type: 'linear',
          min: -0.5,
          max: 24.5,
          afterBuildTicks: scale => { scale.ticks = binTicks.map(value => ({ value })); },
          afterFit: scale => { scale.height = marginBottom; },
          border: { display: false },
          grid: { drawOnChartArea: false, tickLength: 8, tickColor: lineColor, tickWidth: 2 },
          ticks: { display: row === 1, color: textColor, padding: 5, maxRotation: 0, autoSkip: false, font: { family: fontFamily, size: 28.8 } },
          title: {
            display: index === 7,
            text: xAxisTitle,
            color: textColor,
            font: { family: fontFamily, size: 28.8, lineHeight: '34px' },
            padding: { top: 0, bottom: 5 }
          }
        },
        y: {
          type: 'category',
          afterFit: scale => { scale.width = marginLeft; },
          border: { display: false },
          grid: { offset: false, drawOnChartArea: false, tickLength: 8, tickColor: lineColor, tickWidth: 2 },
          ticks: { display: col === 0, color: textColor, padding: 4, autoSkip: false, font: { family: fontFamily, size: 28.8 } }
        }
      }
    }
  });
}

function drawColorbar() {
  const left = 3298, right = 3372, top = 352, bottom = 1433;
  const padSide = 10, padEnd = 30;
  const canvas = addCanvas(left - padSide, top - padEnd, 3454 - left + padSide, bottom - top + padEnd * 2);

  const titlePlugin = {
    id: 'colorbarTitle',
    afterDraw(chart) {
      const { ctx, chartArea: a } = chart;
      ctx.save();
      ctx.translate(3428 - (left - padSide), (a.top + a.bottom) / 2);
      ctx.rotate(-Math.PI / 2);
      ctx.font = `28.8px ${fontFamily}`;
      ctx.fillStyle = textColor;
      ctx.textAlign = 'center';
      ctx.textBaseline = 'middle';
      ctx.fillText(colorbarTitle, 0, 0);
      ctx.restore();
    }
  };

  new Chart(canvas, {
    type: 'bar',
    data: {
      labels: [colorbarTitle],
      datasets: [{
        data: [[0, colorMax]],
        borderWidth: 0,
        barPercentage: 1,
        categoryPercentage: 1,
        backgroundColor: ctx => {
          const area = ctx.chart.chartArea;
          if (!area) return redsStops[0];
          const g = ctx.chart.ctx.createLinearGradient(0, area.bottom, 0, area.top);
          redsStops.forEach((c, i) => g.addColorStop(i / (redsStops.length - 1), c));
          return g;
        }
      }]
    },
    plugins: [framePlugin, titlePlugin],
    options: {
      responsive: false,
      animation: false,
      devicePixelRatio: 1,
      layout: { padding: { left: padSide, top: padEnd, bottom: padEnd } },
      plugins: { legend: { display: false }, tooltip: { enabled: false } },
      scales: {
        x: { display: false },
        y: {
          position: 'right',
          min: 0,
          max: colorMax,
          afterBuildTicks: scale => { scale.ticks = colorbarTicks.map(value => ({ value })); },
          afterFit: scale => { scale.width = 3454 - right; },
          border: { display: false },
          grid: { drawOnChartArea: false, tickLength: 8, tickColor: lineColor, tickWidth: 2 },
          ticks: { color: textColor, padding: 5, font: { family: fontFamily, size: 28.8 } }
        }
      }
    }
  });
}

panelTitles.forEach((_, i) => drawPanel(i));
drawColorbar();
</script>
</body>
</html>
